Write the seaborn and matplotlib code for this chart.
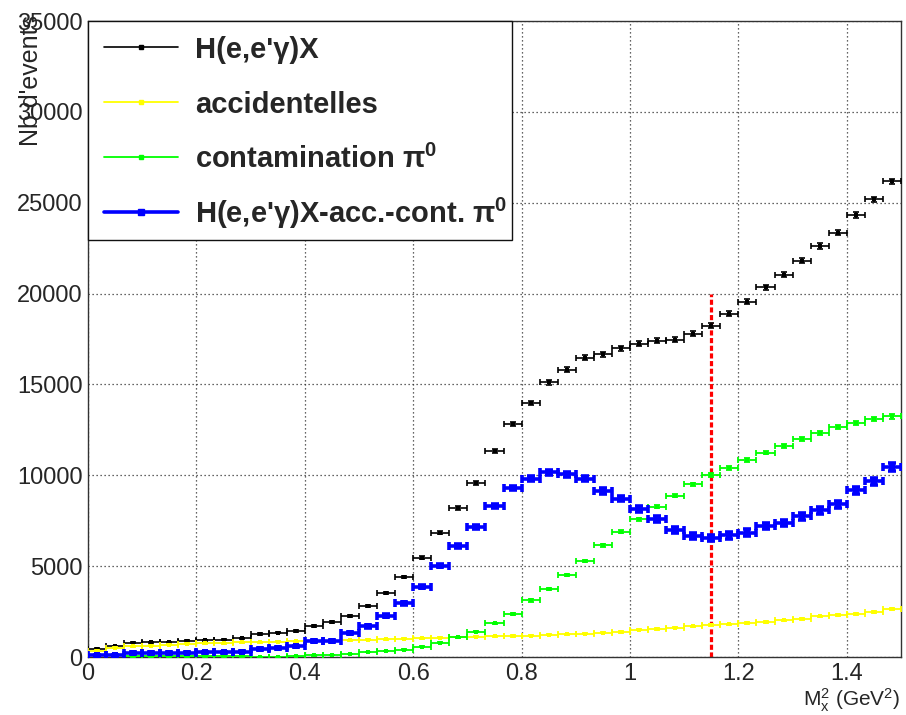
import numpy as np
import pandas as pd
import matplotlib
matplotlib.use("Agg")
import matplotlib.pyplot as plt
from matplotlib.lines import Line2D
from matplotlib.patches import Rectangle
from matplotlib.ticker import MultipleLocator, FuncFormatter
import seaborn as sns

# Missing-mass squared histogram: 45 bins of width 1/30 GeV^2 from 0 to 1.5
n_bins = 45
x_min, x_max = 0.0, 1.5

raw_counts = [450, 600, 790, 800, 800, 900, 930, 940, 1040, 1260, 1340, 1430,
              1700, 1940, 2250, 2790, 3530, 4400, 5460, 6830, 8200, 9580, 11320,
              12820, 13990, 15110, 15820, 16480, 16650, 16980, 17240, 17400,
              17470, 17780, 18240, 18880, 19560, 20350, 21040, 21810, 22620,
              23350, 24340, 25180, 26170]
accidentals = [350, 520, 580, 630, 670, 720, 750, 770, 800, 820, 840, 860, 880,
               900, 920, 940, 970, 1000, 1030, 1070, 1080, 1110, 1140, 1160,
               1180, 1220, 1240, 1290, 1340, 1380, 1500, 1550, 1620, 1680, 1760,
               1800, 1870, 1940, 2010, 2090, 2230, 2310, 2350, 2470, 2640]
pi0_contamination = [0, 0, 30, 30, 30, 30, 30, 30, 30, 20, 20, 70, 90, 110, 165,
                     275, 330, 400, 570, 790, 1080, 1390, 1850, 2380, 3110, 3750,
                     4520, 5290, 6140, 6880, 7580, 8280, 8880, 9500, 10000, 10420,
                     10860, 11250, 11630, 12010, 12330, 12640, 12860, 13090, 13240]
subtracted = [100, 100, 220, 220, 230, 240, 250, 250, 300, 430, 480, 580, 880,
              900, 1300, 1680, 2280, 2960, 3860, 5020, 6120, 7160, 8310, 9300,
              9820, 10160, 10050, 9820, 9140, 8720, 8130, 7600, 6990, 6650, 6540,
              6690, 6850, 7200, 7380, 7750, 8080, 8410, 9180, 9670, 10450]

labels = ["H(e,e'γ)X", "accidentelles", "contamination π$^{\\mathbf{0}}$",
          "H(e,e'γ)X-acc.-cont. π$^{\\mathbf{0}}$"]
cut_position = 1.15
cut_height = 20000

sns.set_style("white")
plt.rcParams["font.family"] = ["Liberation Sans", "DejaVu Sans"]
plt.rcParams["mathtext.fontset"] = "custom"
plt.rcParams["mathtext.rm"] = "Liberation Sans"
plt.rcParams["mathtext.it"] = "Liberation Sans"
plt.rcParams["mathtext.bf"] = "Liberation Sans:bold"

W, H = 906, 715
fig = plt.figure(figsize=(W / 100, H / 100), dpi=100)
L, R, T, B = 88, 901, 21, 657
ax = fig.add_axes([L / W, 1 - B / H, (R - L) / W, (B - T) / H])

edges = np.linspace(x_min, x_max, n_bins + 1)
centers = 0.5 * (edges[:-1] + edges[1:])
half_width = 0.5 * (edges[1] - edges[0])

series = [
    dict(y=np.array(raw_counts, float), color="#000000", lw=1.2, cap=2.2, ms=3.4, z=3),
    dict(y=np.array(accidentals, float), color="#ffff00", lw=1.3, cap=2.4, ms=3.4, z=4),
    dict(y=np.array(pi0_contamination, float), color="#00ff00", lw=1.3, cap=2.4, ms=3.4, z=5),
    dict(y=np.array(subtracted, float), color="#0000ff", lw=2.6, cap=2.9, ms=5.0, z=6),
]
# Poisson uncertainties on the raw spectrum; the subtracted spectrum carries the
# combined uncertainty of all its contributions
errors = [np.sqrt(series[0]["y"]), np.sqrt(series[1]["y"]), np.sqrt(series[2]["y"]),
          np.sqrt(series[0]["y"] + series[1]["y"] + series[2]["y"])]

for s, err in zip(series, errors):
    keep = s["y"] > 0
    ax.errorbar(centers[keep], s["y"][keep], xerr=half_width, yerr=err[keep],
                fmt="none", ecolor=s["color"], elinewidth=s["lw"],
                capsize=s["cap"], capthick=s["lw"], zorder=s["z"])
    df = pd.DataFrame({"x": centers[keep], "y": s["y"][keep]})
    sns.scatterplot(data=df, x="x", y="y", ax=ax, marker="s", s=s["ms"] ** 2,
                    color=s["color"], linewidth=0, legend=False, zorder=s["z"] + 0.1)

# Selection cut on the missing mass squared
ax.vlines(cut_position, 0, cut_height, colors="#ff0000", linewidth=2.3,
          linestyles=(0, (1.6, 0.8)), zorder=2.5)

ax.set_xlim(x_min, x_max)
ax.set_ylim(0, 35000)
ax.set_xlabel("")
ax.set_ylabel("")

ax.xaxis.set_major_locator(MultipleLocator(0.2))
ax.xaxis.set_minor_locator(MultipleLocator(0.05))
ax.yaxis.set_major_locator(MultipleLocator(5000))
ax.yaxis.set_minor_locator(MultipleLocator(1000))
ax.xaxis.set_major_formatter(FuncFormatter(lambda v, p: "%g" % round(v, 2)))
ax.yaxis.set_major_formatter(FuncFormatter(lambda v, p: "%d" % round(v)))

ax.tick_params(axis="both", which="both", direction="in", top=False, right=False,
               labelsize=17, color="#222222", width=1.0)
ax.tick_params(axis="x", which="major", length=13, pad=4)
ax.tick_params(axis="x", which="minor", length=7)
ax.tick_params(axis="y", which="major", length=17, pad=4)
ax.tick_params(axis="y", which="minor", length=8.6)

ax.grid(True, which="major", color="#333333", linestyle=(0, (1, 2.2)), linewidth=0.9)
ax.set_axisbelow(True)
for sp in ax.spines.values():
    sp.set_visible(True)
    sp.set_color("#333333")
    sp.set_linewidth(1.0)

# Legend box drawn in axes coordinates
def ax_xy(px, py):
    return (px - L) / (R - L), (B - py) / (B - T)

x0, y0 = ax_xy(88, 240)
x1, y1 = ax_xy(512, 21)
ax.add_patch(Rectangle((x0, y0), x1 - x0, y1 - y0, transform=ax.transAxes,
                       facecolor="white", edgecolor="#111111", linewidth=1.0,
                       zorder=10, clip_on=False))
row_y = [47, 102, 157, 212]
for s, lab, ry in zip(series, labels, row_y):
    lx0, ly = ax_xy(104, ry)
    lx1, _ = ax_xy(178, ry)
    mx, _ = ax_xy(141, ry)
    ax.add_line(Line2D([lx0, lx1], [ly, ly], transform=ax.transAxes,
                       color=s["color"], linewidth=s["lw"], zorder=11))
    ax.add_line(Line2D([mx], [ly], transform=ax.transAxes, marker="s",
                       markersize=s["ms"] * 0.9, color=s["color"], linewidth=0,
                       zorder=12))
    tx, ty = ax_xy(195, ry + 11)
    ax.text(tx, ty, lab, transform=ax.transAxes, fontsize=21, fontweight="bold",
            ha="left", va="baseline", zorder=12)

fig.text(900 / W, 1 - 706 / H, "$\\mathrm{M_{x}^{2}}$ (GeV$^{2}$)", fontsize=15,
         ha="right", va="baseline")
fig.text(31 / W, 1 - 15 / H, "Nb d'events", fontsize=18, rotation=90,
         ha="center", va="top")

fig.savefig("out.png", dpi=100)
